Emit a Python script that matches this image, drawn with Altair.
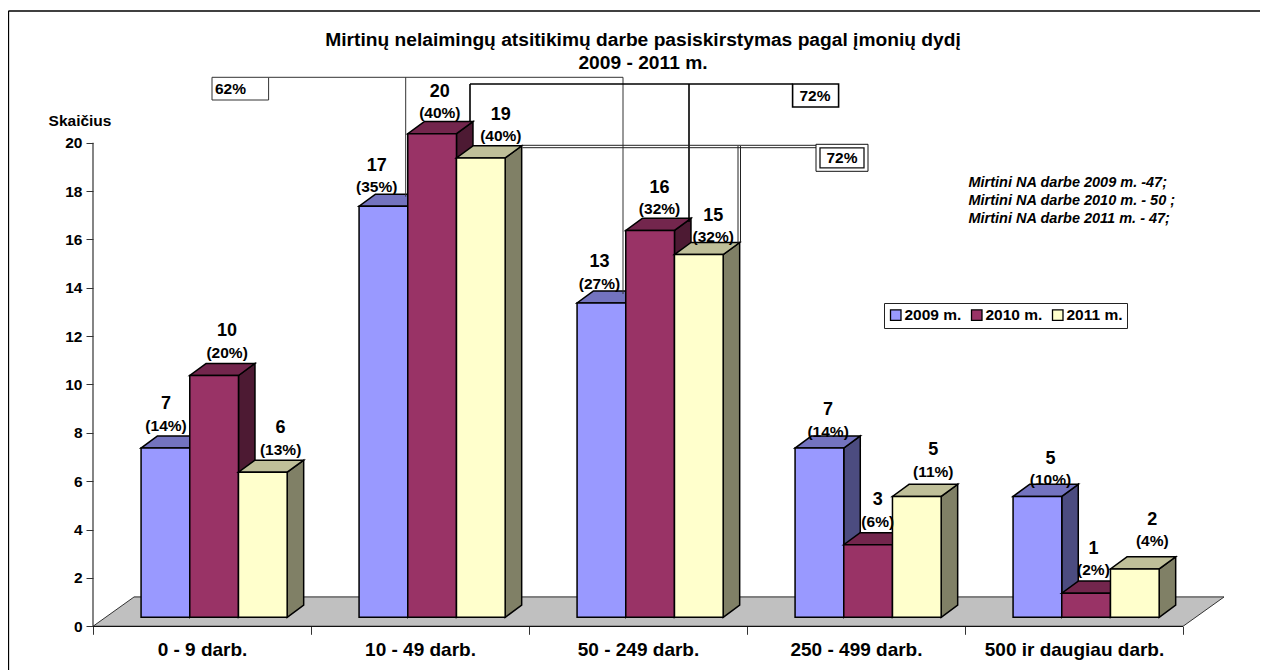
import json
import altair as alt
import pandas as pd

categories = ["0 - 9 darb.", "10 - 49 darb.", "50 - 249 darb.", "250 - 499 darb.", "500 ir daugiau darb."]
series = ["2009 m.", "2010 m.", "2011 m."]
v2009 = [7, 17, 13, 7, 5]
v2010 = [10, 20, 16, 3, 1]
v2011 = [6, 19, 15, 5, 2]
p2009 = [14, 35, 27, 14, 10]
p2010 = [20, 40, 32, 6, 2]
p2011 = [13, 40, 32, 11, 4]
y_ticks = list(range(0, 21, 2))
notes = ["Mirtini NA darbe 2009 m. -47;", "Mirtini NA darbe 2010 m. - 50 ;", "Mirtini NA darbe 2011 m. - 47;"]
title_lines = ["Mirtinų nelaimingų atsitikimų darbe pasiskirstymas pagal įmonių dydį", "2009 - 2011 m."]

front = ["#9999FF", "#993366", "#FFFFCC"]
top_c = ["#7373BF", "#73264D", "#BFBF99"]
side_c = ["#4C4C80", "#4D1A33", "#808066"]

# label placement relative to each bar (pixels across, value units up)
shift_x = [[0.6, -6.7, -2, 8.7, 13], [13, 7.7, 9.4, 9.6, 7.3], [17.8, 20, 14.4, 16.4, 17.5]]
shift_y = [[2.19, 2.04, 2.06, 1.94, 1.92], [2.21, 2.10, 2.13, 2.22, 2.2], [2.2, 2.15, 1.97, 2.29, 2.4]]

W, H = 1252, 662
PX0, STEP, PY0, UNIT = 93.0, 218.0, 626.3, 24.18
def ux(px): return (px - PX0) / STEP
def uy(py): return (PY0 - py) / UNIT

XS = alt.Scale(domain=[ux(8), ux(8 + W)], nice=False, zero=False)
YS = alt.Scale(domain=[uy(8 + H), uy(8)], nice=False, zero=False)
FONT = "Liberation Sans"
BAR_START, BAR_W, DX, DY, BASE = 0.2205, 0.2234, 0.0757, 0.5, 0.372
FX, FY = ux(134), uy(597)

half_values = [i / 2 for i in range(0, 11)]
x_axis = alt.Axis(values=half_values, grid=False, domain=False, tickSize=8, tickColor="#333333",
                  tickOpacity={"condition": {"test": "datum.value % 1 == 0", "value": 1}, "value": 0},
                  labelExpr="datum.value % 1 == 0 ? '' : " + json.dumps(categories) + "[floor(datum.value)]",
                  labelFont=FONT, labelFontWeight="bold", labelFontSize=19, labelColor="black",
                  labelPadding=6, labelOverlap=False, labelFlush=False, labelBound=False, offset=-(8 + H - PY0))
y_axis = alt.Axis(values=y_ticks, grid=False, domain=False, tickSize=7, tickColor="#333333",
                  labelFont=FONT, labelFontWeight="bold", labelFontSize=15.5, labelColor="black",
                  labelPadding=4, offset=-(PX0 - 8))

def X(f="x"): return alt.X(f"{f}:Q", scale=XS, title=None, axis=x_axis)
def Y(f="y"): return alt.Y(f"{f}:Q", scale=YS, title=None, stack=None, axis=y_axis)
X2 = alt.X2("x2:Q")
Y2 = alt.Y2("y2:Q")

layers = []

floor = pd.DataFrame({"y": [0, FY], "x": [0, FX], "x2": [5, 5 + FX], "id": ["f", "f"]})
layers.append(alt.Chart(floor).mark_area(orient="horizontal", fill="#C0C0C0").encode(
    y=Y(), x=X(), x2=X2, detail="id:N"))

def segs(rows, color, width):
    df = pd.DataFrame(rows, columns=["x", "y", "x2", "y2"])
    return alt.Chart(df).mark_rule(color=color, strokeWidth=width).encode(x=X(), y=Y(), x2=X2, y2=Y2)

def pseg(rows, color, width):
    return segs([(ux(a), uy(b), ux(c), uy(d)) for a, b, c, d in rows], color, width)

layers.append(segs([(FX, FY, 5 + FX, FY)], "#808080", 2))
layers.append(segs([(0, 0, FX, FY), (5, 0, 5 + FX, FY)], "#333333", 1))
layers.append(segs([(0, 0, 5, 0)], "#111111", 1.2))
layers.append(segs([(0, 0, 0, 20)], "#333333", 1.2))

# 3-D bars, painted series by series
all_vals = [v2009, v2010, v2011]
for s, vals in enumerate(all_vals):
    side, top, fr = [], [], []
    for c, v in enumerate(vals):
        xl = c + BAR_START + s * BAR_W
        xr = xl + BAR_W
        for t in (0, 1):
            side.append({"id": c, "x": xr + t * DX, "y": BASE + t * DY, "y2": BASE + v + t * DY})
            top.append({"id": c, "y": BASE + v + t * DY, "x": xl + t * DX, "x2": xr + t * DX})
        fr.append({"x": xl, "x2": xr, "y": BASE, "y2": BASE + v, "series": series[s]})
    layers.append(alt.Chart(pd.DataFrame(side)).mark_area(orient="vertical", fill=side_c[s], stroke="black", strokeWidth=1.5)
                  .encode(x=X(), y=Y(), y2=Y2, detail="id:N"))
    layers.append(alt.Chart(pd.DataFrame(top)).mark_area(orient="horizontal", fill=top_c[s], stroke="black", strokeWidth=1.5)
                  .encode(y=Y(), x=X(), x2=X2, detail="id:N"))
    leg = alt.Legend(title=None, orient="none", legendX=884 - 8, legendY=303 - 8, direction="horizontal", columns=3,
                     fillColor="white", strokeColor="#222222", padding=4, symbolType="square", symbolSize=110,
                     symbolStrokeColor="black", symbolStrokeWidth=1.3, labelFont=FONT, labelFontWeight="bold",
                     labelFontSize=15.5, labelColor="black", labelOffset=1, columnPadding=6)
    layers.append(alt.Chart(pd.DataFrame(fr)).mark_rect(stroke="black", strokeWidth=1.5).encode(
        x=X(), x2=X2, y=Y(), y2=Y2,
        color=alt.Color("series:N", scale=alt.Scale(domain=series, range=front), legend=leg)))

# leader lines and their boxes
layers.append(pseg([(268.6, 77.3, 623, 77.3), (405.7, 77.3, 405.7, 196.7), (623, 77.3, 623, 294)], "#333333", 1))
layers.append(pseg([(470, 84, 792.6, 84), (470, 84, 470, 122), (689, 84, 689, 222)], "black", 1.6))
layers.append(pseg([(522.4, 145.3, 816, 145.3), (522.4, 147.7, 816, 147.7), (738, 146, 738, 243), (740.5, 146, 740.5, 243)], "#222222", 1))

def box(a, b, c, d, stroke, width):
    df = pd.DataFrame([{"x": ux(a), "x2": ux(c), "y": uy(b), "y2": uy(d)}])
    return alt.Chart(df).mark_rect(fill="white", stroke=stroke, strokeWidth=width).encode(x=X(), x2=X2, y=Y(), y2=Y2)

layers.append(box(212, 77.3, 268.6, 100, "#333333", 1))
layers.append(box(792.6, 84, 838.6, 107, "black", 1.6))
layers.append(box(816, 144.3, 868, 171.3, "#111111", 1))
layers.append(box(820, 147.8, 864, 167.8, "#111111", 1.3))

def text(rows, size, align="center", style="normal", weight="bold"):
    df = pd.DataFrame(rows, columns=["x", "y", "t"])
    return alt.Chart(df).mark_text(font=FONT, fontSize=size, fontWeight=weight, fontStyle=style, align=align,
                                   baseline="middle", color="black").encode(x=X(), y=Y(), text="t:N")

pct_all = [p2009, p2010, p2011]
nums, pcts = [], []
for s, vals in enumerate(all_vals):
    for c, v in enumerate(vals):
        xc = c + BAR_START + (s + 0.5) * BAR_W + shift_x[s][c] / STEP
        yn = v + shift_y[s][c]
        nums.append((xc, yn, str(v)))
        pcts.append((xc, yn - 0.89, f"({pct_all[s][c]}%)"))
layers.append(text(nums, 18))
layers.append(text(pcts, 15.5))

layers.append(text([(ux(643), uy(40), title_lines[0]), (ux(643), uy(62.5), title_lines[1])], 19.2))
layers.append(text([(ux(80), uy(121), "Skaičius")], 15.5))
layers.append(text([(ux(215), uy(88.5), "62%")], 15.5, align="left"))
layers.append(text([(ux(815), uy(95.5), "72%")], 15.5))
layers.append(text([(ux(842), uy(158), "72%")], 15.5))
layers.append(text([(ux(968.5), uy(y), n) for y, n in zip([183, 201, 218.5], notes)], 14.5, align="left", style="italic"))

# page frame
layers.append(pseg([(8.4, 11, 1260, 11), (8.4, 11, 8.4, 670)], "black", 1.5))

chart = alt.layer(*layers).properties(
    width=W, height=H, padding=0, autosize=alt.AutoSizeParams(type="none"), background="white"
).configure_view(stroke=None)
chart.save("out.html", embed_options={"renderer": "svg", "actions": False})
